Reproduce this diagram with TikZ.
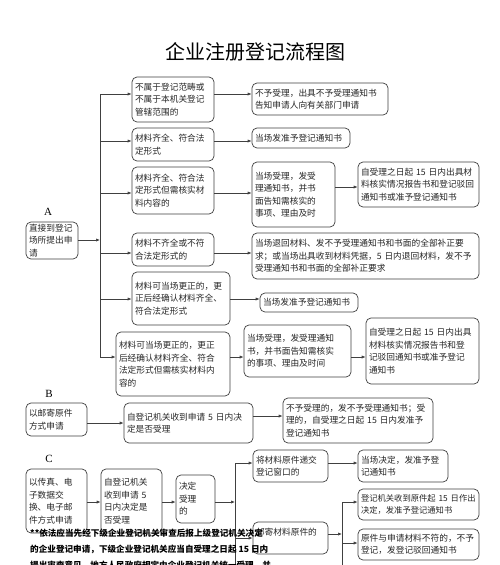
\documentclass[tikz,border=0pt]{standalone}
\usepackage{fontspec}
\setmainfont{Liberation Serif}
\newfontfamily\cjk{Noto Sans CJK SC}
\usetikzlibrary{arrows.meta}
\newcommand{\bx}[7]{\node[box,minimum width=#4pt,minimum height=#5pt,text width=#6pt] (#1) at (#2,#3) {#7};}
\begin{document}
\begin{tikzpicture}[x=1pt,y=-1pt,
 box/.style={draw=black!75, rounded corners=5pt, line width=0.7pt, inner xsep=3pt, inner ysep=0pt, align=left, font=\cjk\fontsize{8.7}{12.5}\selectfont, text=black!85},
 arr/.style={draw=black!75, line width=0.7pt, -{Latex[length=4pt,width=3.2pt]}},
 ln/.style={draw=black!75, line width=0.7pt},
 lbl/.style={font=\fontsize{11}{12}\selectfont, inner sep=0pt}]
\useasboundingbox (0,0) rectangle (500,565);
\clip (0,0) rectangle (500,565);
\fill[white] (0,0) rectangle (500,565);

\node[font=\cjk\fontsize{20}{22}\selectfont, inner sep=0pt] (title) at (255,52) {企业注册登记流程图};

% ---- A ----
\node[lbl] (labA) at (48,212) {A};
\bx{bA}{52}{240.5}{52}{37}{46}{直接到登记\\场所提出申\\请}
\bx{b1}{173}{99.5}{82}{45}{76}{不属于登记范畴或\\不属于本机关登记\\管辖范围的}
\bx{b2}{173}{144.5}{82}{33}{76}{材料齐全、符合法\\定形式}
\bx{b3}{173}{190.5}{82}{47}{76}{材料齐全、符合法\\定形式但需核实材\\料内容的}
\bx{b4}{173}{249.5}{82}{33}{76}{材料不齐全或不符\\合法定形式的}
\bx{b5}{181}{298.5}{98}{53}{92}{材料可当场更正的，更\\正后经确认材料齐全、\\符合法定形式}
\bx{b6}{173}{364}{114}{64}{108}{材料可当场更正的，更正\\后经确认材料齐全、符合\\法定形式但需核实材料内\\容的}
\bx{b1r}{320}{99}{136}{32}{130}{不予受理，出具不予受理通知书\\告知申请人向有关部门申请}
\bx{b2r}{301}{138}{98}{20}{92}{当场发准予登记通知书}
\bx{b3r}{293.5}{194.5}{83}{65}{77}{当场受理，发受\\理通知书，并书\\面告知需核实的\\事项、理由及时}
\bx{b3rr}{418.5}{184.5}{121}{45}{115}{自受理之日起~15~日内出具材\\料核实情况报告书和登记驳回\\通知书或准予登记通知书}
\bx{b4r}{365.5}{256}{227}{46}{221}{当场退回材料、发不予受理通知书和书面的全部补正要\\求；或当场出具收到材料凭据，5~日内退回材料，发不予\\受理通知书和书面的全部补正要求}
\bx{b5r}{309}{302.5}{98}{19}{92}{当场发准予登记通知书}
\bx{b6r}{297.5}{351}{107}{52}{101}{当场受理，发受理通知\\书，并书面告知需核实\\的事项、理由及时间}
\bx{b6rr}{422.5}{351}{113}{66}{107}{自受理之日起~15~日内出具\\材料核实情况报告书和登\\记驳回通知书或准予登记\\通知书}

\coordinate (tA1) at (100,94);
\coordinate (tA2) at (100,141);
\coordinate (tA3) at (100,193);
\coordinate (tAin) at (100,240);
\coordinate (tA4) at (100,253);
\coordinate (tA5) at (100,299);
\coordinate (tA6) at (100,357);
\coordinate (yr3) at (0,187);
\draw[ln] (tA1) -- (tA6);
\draw[arr] (tAin -| bA.east) -- (tAin);
\draw[arr] (tA1) -- (tA1 -| b1.west);
\draw[arr] (tA2) -- (tA2 -| b2.west);
\draw[arr] (tA3) -- (tA3 -| b3.west);
\draw[arr] (tA4) -- (tA4 -| b4.west);
\draw[arr] (tA5) -- (tA5 -| b5.west);
\draw[arr] (tA6) -- (tA6 -| b6.west);
\draw[arr] (b1.east |- tA1) -- (b1r.west |- tA1);
\draw[arr] (b2.east |- tA2) -- (b2r.west |- tA2);
\draw[arr] (b3.east |- tA3) -- (b3r.west |- tA3);
\draw[arr] (b3r.east |- yr3) -- (b3rr.west |- yr3);
\draw[arr] (b4.east |- tA4) -- (b4r.west |- tA4);
\draw[arr] (b5.east |- tA5) -- (b5r.west |- tA5);
\draw[arr] (b6.east |- tA6) -- (b6r.west |- tA6);
\draw[arr] (b6r.east |- tA6) -- (b6rr.west |- tA6);

% ---- B ----
\node[lbl] (labB) at (49,394) {B};
\bx{bB}{56.5}{419.5}{61}{33}{55}{以邮寄原件\\方式申请}
\bx{bB2}{188.5}{423}{129}{40}{123}{自登记机关收到申请~5~日内决\\定是否受理}
\bx{bB3}{358}{420.5}{150}{45}{144}{不予受理的，发不予受理通知书；受\\理的，自受理之日起~15~日内发准予\\登记通知书}
\coordinate (yB1) at (0,423);
\coordinate (yB2) at (0,416);
\draw[arr] (bB.east |- yB1) -- (bB2.west |- yB1);
\draw[arr] (bB2.east |- yB2) -- (bB3.west |- yB2);

% ---- C ----
\node[lbl] (labC) at (49,459) {C};
\bx{c1}{56.5}{501}{61}{64}{55}{以传真、电\\子数据交\\换、电子邮\\件方式申请}
\bx{c2}{131.5}{501}{61}{64}{55}{自登记机关\\收到申请~5\\日内决定是\\否受理}
\bx{c3}{195.5}{499}{39}{48}{33}{决定\\受理\\的}
\bx{c4}{290.5}{466}{75}{32}{69}{将材料原件递交\\登记窗口的}
\bx{c5}{403}{466}{90}{32}{84}{当场决定，发准予登\\记通知书}
\bx{c6}{290.5}{538}{75}{32}{69}{邮寄材料原件的\\\mbox{}}
\bx{c7}{418.5}{504.5}{121}{31}{115}{\fontsize{8.3}{12.5}\selectfont 登记机关收到原件起~15~日作出\\决定，发准予登记通知书}
\bx{c8}{418.5}{544.5}{121}{31}{115}{原件与申请材料不符的，不予\\登记，发登记驳回通知书}

\coordinate (yC) at (0,502);
\coordinate (tC1) at (235,463);
\coordinate (tC2) at (235,502);
\coordinate (tC3) at (235,538);
\coordinate (tCb) at (235,575);
\coordinate (tD1) at (342,502);
\coordinate (tDin) at (342,534);
\coordinate (tD2) at (342,543);
\coordinate (tDb) at (342,575);
\draw[arr] (c1.east |- yC) -- (c2.west |- yC);
\draw[arr] (c2.east |- yC) -- (c3.west |- yC);
\draw[arr] (c3.east |- yC) -- (tC2);
\draw[ln] (tC1) -- (tCb);
\draw[arr] (tC1) -- (tC1 -| c4.west);
\draw[arr] (tC3) -- (tC3 -| c6.west);
\draw[arr] (c4.east |- tC1) -- (c5.west |- tC1);
\draw[ln] (tD1) -- (tDb);
\draw[arr] (c6.east |- tDin) -- (tDin);
\draw[arr] (tD1) -- (tD1 -| c7.west);
\draw[arr] (tD2) -- (tD2 -| c8.west);

\node[anchor=north west, inner sep=0pt, align=left, font=\cjk\bfseries\fontsize{8.6}{16}\selectfont] (note) at (30,529)
 {**依法应当先经下级企业登记机关审查后报上级登记机关决定\\的企业登记申请，下级企业登记机关应当自受理之日起~15~日内\\提出审查意见，地方人民政府规定由企业登记机关统一受理，并};
\end{tikzpicture}
\end{document}
